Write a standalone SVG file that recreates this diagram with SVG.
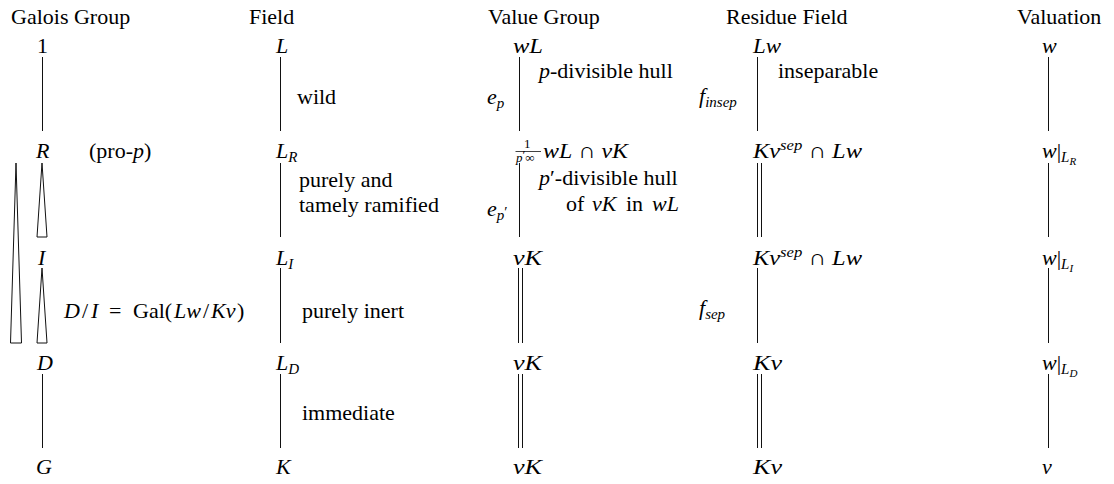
<svg xmlns="http://www.w3.org/2000/svg" width="1114" height="484" viewBox="0 0 1114 484" font-family="'Liberation Serif', 'DejaVu Serif', serif">
<style>
text{font-family:'Liberation Serif', 'DejaVu Serif', serif}
.t{font-size:22px;fill:#000}
.m{font-style:italic}
.r{font-style:normal}
.s{font-size:15px}
.ss{font-size:11px}
.fr{font-size:13px}
.ln{stroke:#111;stroke-width:1;fill:none}
.tri{stroke:#111;stroke-width:1;fill:#fff}
</style>
<rect width="1114" height="484" fill="#fff"/>

<g id="headers">
<text class="t" x="11" y="24">Galois Group</text>
<text class="t" x="249" y="24">Field</text>
<text class="t" x="488" y="24">Value Group</text>
<text class="t" x="726" y="24">Residue Field</text>
<text class="t" x="1017" y="24">Valuation</text>
</g>

<g id="connectors">
<line class="ln" x1="42.5" y1="57" x2="42.5" y2="131"/>
<line class="ln" x1="42.5" y1="374" x2="42.5" y2="448"/>
<polygon class="tri" points="16,163 10.5,343 21.5,343"/>
<polygon class="tri" points="42,163 37,237 47,237"/>
<polygon class="tri" points="42,268 37,343 47,343"/>

<line class="ln" x1="280.5" y1="57" x2="280.5" y2="131"/>
<line class="ln" x1="280.5" y1="163" x2="280.5" y2="237"/>
<line class="ln" x1="280.5" y1="268" x2="280.5" y2="343"/>
<line class="ln" x1="280.5" y1="374" x2="280.5" y2="448"/>

<line class="ln" x1="519.5" y1="57" x2="519.5" y2="131"/>
<line class="ln" x1="519.5" y1="163" x2="519.5" y2="237"/>
<line class="ln" x1="518.5" y1="268" x2="518.5" y2="343"/>
<line class="ln" x1="522.5" y1="268" x2="522.5" y2="343"/>
<line class="ln" x1="518.5" y1="374" x2="518.5" y2="448"/>
<line class="ln" x1="522.5" y1="374" x2="522.5" y2="448"/>

<line class="ln" x1="757.5" y1="57" x2="757.5" y2="131"/>
<line class="ln" x1="757.5" y1="163" x2="757.5" y2="237"/>
<line class="ln" x1="761.5" y1="163" x2="761.5" y2="237"/>
<line class="ln" x1="757.5" y1="268" x2="757.5" y2="343"/>
<line class="ln" x1="757.5" y1="374" x2="757.5" y2="448"/>
<line class="ln" x1="761.5" y1="374" x2="761.5" y2="448"/>

<line class="ln" x1="1048.5" y1="57" x2="1048.5" y2="131"/>
<line class="ln" x1="1048.5" y1="163" x2="1048.5" y2="237"/>
<line class="ln" x1="1048.5" y1="268" x2="1048.5" y2="343"/>
<line class="ln" x1="1048.5" y1="374" x2="1048.5" y2="448"/>
</g>

<g id="galois">
<g id="g-1"><text class="t" x="37" y="53">1</text></g>
<g id="g-R"><text class="t m" x="36" y="158">R</text></g>
<g id="g-prop"><text class="t" x="89" y="158">(pro-<tspan class="m">p</tspan>)</text></g>
<g id="g-I"><text class="t m" x="38" y="265">I</text></g>
<g id="g-DI">
<text class="t" y="318"><tspan class="m" x="64">D</tspan><tspan x="82">/</tspan><tspan class="m" x="91">I</tspan><tspan x="109">=</tspan><tspan x="133">Gal(</tspan><tspan class="m" x="174">Lw</tspan><tspan x="203">/</tspan><tspan class="m" x="211">Kv</tspan><tspan x="237">)</tspan></text>
</g>
<g id="g-D"><text class="t m" x="37" y="370">D</text></g>
<g id="g-G"><text class="t m" x="36" y="474">G</text></g>
</g>

<g id="field">
<g id="f-L"><text class="t m" x="276" y="53">L</text></g>
<g id="f-wild"><text class="t" x="297" y="104">wild</text></g>
<g id="f-LR"><text class="t m" x="276" y="158">L<tspan class="s" dy="4">R</tspan></text></g>
<g id="f-tame"><text class="t" x="299" y="187">purely and</text><text class="t" x="299" y="212">tamely ramified</text></g>
<g id="f-LI"><text class="t m" x="276" y="265">L<tspan class="s" dy="4">I</tspan></text></g>
<g id="f-inert"><text class="t" x="302" y="318">purely inert</text></g>
<g id="f-LD"><text class="t m" x="276" y="370">L<tspan class="s" dy="4">D</tspan></text></g>
<g id="f-imm"><text class="t" x="302" y="420">immediate</text></g>
<g id="f-K"><text class="t m" x="276" y="474">K</text></g>
</g>

<g id="value">
<g id="v-wL"><text class="t m" x="513" y="53" textLength="30" lengthAdjust="spacingAndGlyphs">wL</text></g>
<g id="v-ep"><text class="t m" x="487" y="104">e<tspan class="s" dy="4">p</tspan></text></g>
<g id="v-phull"><text class="t" x="539" y="78"><tspan class="m">p</tspan>-divisible hull</text></g>
<g id="v-frac">
<text class="t fr" x="524" y="148">1</text>
<line class="ln" x1="515.5" y1="151.5" x2="541" y2="151.5" style="stroke-width:0.8"/>
<text class="t fr" x="516" y="162"><tspan class="m">p</tspan><tspan dy="-3">′</tspan><tspan dy="3">∞</tspan></text>
<text class="t" x="543" y="158" textLength="85" lengthAdjust="spacingAndGlyphs"><tspan class="m">wL</tspan> ∩ <tspan class="m">vK</tspan></text>
</g>
<g id="v-epp"><text class="t m" x="487" y="216">e<tspan class="s" dy="4">p</tspan><tspan class="s r" dy="-3">′</tspan></text></g>
<g id="v-pphull"><text class="t" x="539" y="185"><tspan class="m">p</tspan>′-divisible hull</text><text class="t" y="211"><tspan x="566">of</tspan><tspan class="m" x="592">vK</tspan><tspan x="626">in</tspan><tspan class="m" x="652">wL</tspan></text></g>
<g id="v-vK1"><text class="t m" x="513" y="265" textLength="29" lengthAdjust="spacingAndGlyphs">vK</text></g>
<g id="v-vK2"><text class="t m" x="513" y="370" textLength="29" lengthAdjust="spacingAndGlyphs">vK</text></g>
<g id="v-vK3"><text class="t m" x="513" y="474" textLength="29" lengthAdjust="spacingAndGlyphs">vK</text></g>
</g>

<g id="residue">
<g id="r-Lw"><text class="t m" x="753" y="53" textLength="28" lengthAdjust="spacingAndGlyphs">Lw</text></g>
<g id="r-finsep"><text class="t m" x="699" y="103">f<tspan class="s" dy="4">insep</tspan></text></g>
<g id="r-insep"><text class="t" x="778" y="78">inseparable</text></g>
<g id="r-sep1"><text class="t" x="753" y="158" textLength="109" lengthAdjust="spacingAndGlyphs"><tspan class="m">Kv</tspan><tspan class="s m" dy="-8">sep</tspan><tspan dy="8"> ∩ </tspan><tspan class="m">Lw</tspan></text></g>
<g id="r-sep2"><text class="t" x="753" y="265" textLength="109" lengthAdjust="spacingAndGlyphs"><tspan class="m">Kv</tspan><tspan class="s m" dy="-8">sep</tspan><tspan dy="8"> ∩ </tspan><tspan class="m">Lw</tspan></text></g>
<g id="r-fsep"><text class="t m" x="699" y="315">f<tspan class="s" dy="4">sep</tspan></text></g>
<g id="r-Kv1"><text class="t m" x="753" y="370" textLength="29" lengthAdjust="spacingAndGlyphs">Kv</text></g>
<g id="r-Kv2"><text class="t m" x="753" y="474" textLength="29" lengthAdjust="spacingAndGlyphs">Kv</text></g>
</g>

<g id="valuation">
<g id="w-w"><text class="t m" x="1042" y="53">w</text></g>
<g id="w-R"><text class="t" x="1042" y="158"><tspan class="m">w</tspan><tspan>|</tspan><tspan class="s m" dy="4">L</tspan><tspan class="ss m" dy="3">R</tspan></text></g>
<g id="w-I"><text class="t" x="1042" y="265"><tspan class="m">w</tspan><tspan>|</tspan><tspan class="s m" dy="4">L</tspan><tspan class="ss m" dy="3">I</tspan></text></g>
<g id="w-D"><text class="t" x="1042" y="370"><tspan class="m">w</tspan><tspan>|</tspan><tspan class="s m" dy="4">L</tspan><tspan class="ss m" dy="3">D</tspan></text></g>
<g id="w-v"><text class="t m" x="1042" y="474">v</text></g>
</g>
</svg>
